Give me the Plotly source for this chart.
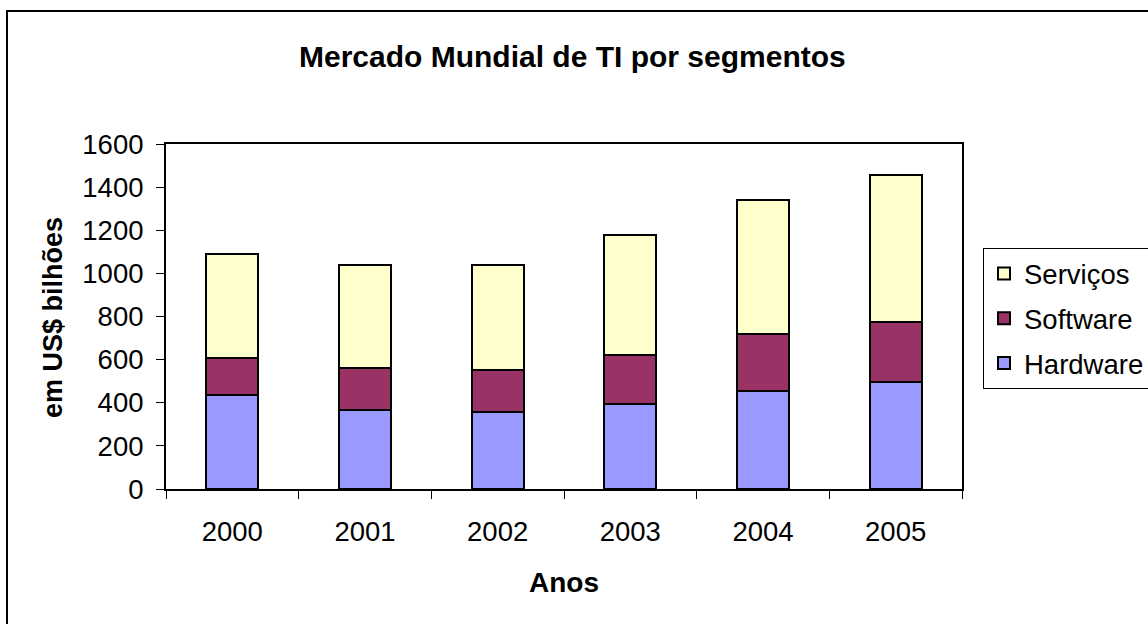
import plotly.graph_objects as go

anos = ["2000", "2001", "2002", "2003", "2004", "2005"]
hardware = [435, 367, 356, 395, 455, 494]
software = [174, 195, 196, 225, 262, 280]
servicos = [479, 476, 488, 556, 622, 682]

W, H = 1148, 624
L, R, T, B = 166, 962, 144, 489

def px(x):
    return (x - L) / (R - L)

def py(y):
    return (B - y) / (B - T)

font = "Liberation Sans, Arial, sans-serif"
line = dict(color="black", width=2)

fig = go.Figure()
fig.add_bar(x=anos, y=hardware, name="Hardware", marker=dict(color="#9999FF", line=line),
            legendgroup="h", legendrank=3)
fig.add_bar(x=anos, y=software, name="Software", marker=dict(color="#993366", line=line),
            legendgroup="s", legendrank=2)
fig.add_bar(x=anos, y=servicos, name="Serviços", marker=dict(color="#FFFFCC", line=line),
            legendgroup="v", legendrank=1)

fig.update_layout(
    width=W, height=H,
    margin=dict(l=L, r=W - R, t=T, b=H - B, autoexpand=False),
    barmode="stack", bargap=0.61,
    plot_bgcolor="white", paper_bgcolor="white",
    font=dict(family=font, size=27.5, color="black"),
    showlegend=True,
    legend=dict(
        x=px(983), y=py(248), xanchor="left", yanchor="top",
        traceorder="grouped", tracegroupgap=6,
        bordercolor="black", borderwidth=1,
        font=dict(size=27.5, family=font),
        itemclick=False,
    ),
    xaxis=dict(
        showline=True, linecolor="black", linewidth=2, mirror=True,
        ticks="outside", ticklen=8, tickcolor="black", tickson="boundaries",
        tickfont=dict(size=27.5), ticklabelstandoff=17,
    ),
    yaxis=dict(
        range=[0, 1600], dtick=200,
        showline=True, linecolor="black", linewidth=2, mirror=True,
        ticks="outside", ticklen=8, tickcolor="black",
        showgrid=False, zeroline=False, tickfont=dict(size=27.5),
        ticklabelstandoff=7,
    ),
    annotations=[
        dict(text="<b>Mercado Mundial de TI por segmentos</b>", xref="paper", yref="paper",
             x=px(572), y=py(57), xanchor="center", yanchor="middle", showarrow=False,
             font=dict(size=30)),
        dict(text="<b>Anos</b>", xref="paper", yref="paper",
             x=px(564), y=py(582), xanchor="center", yanchor="middle", showarrow=False,
             font=dict(size=28)),
        dict(text="<b>em US$ bilhões</b>", xref="paper", yref="paper",
             x=px(53), y=py(318), xanchor="center", yanchor="middle", showarrow=False,
             textangle=-90, font=dict(size=27)),
    ],
    shapes=[
        dict(type="rect", xref="paper", yref="paper",
             x0=px(7), y0=py(11), x1=px(1170), y1=py(650),
             line=dict(color="black", width=2), fillcolor="rgba(0,0,0,0)", layer="below"),
    ],
)

fig.write_html("out.html", config={"displayModeBar": False},
               post_script="document.body.style.margin='0px';")
